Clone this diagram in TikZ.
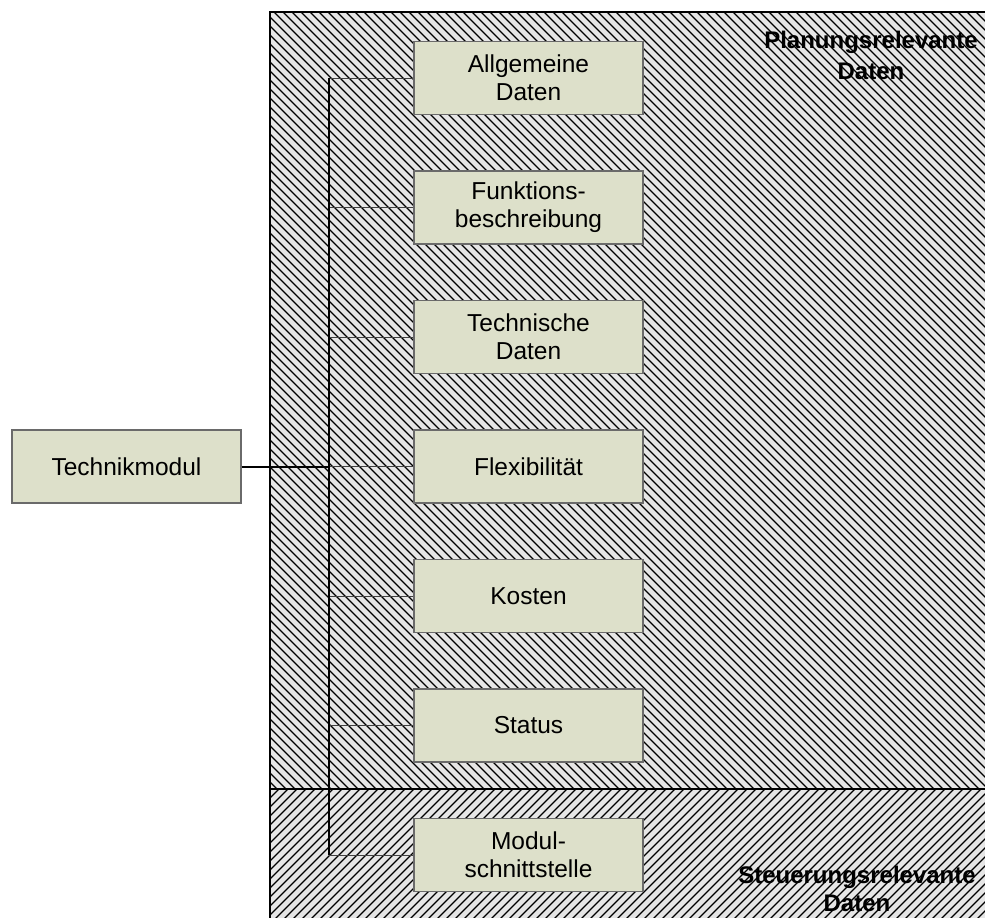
\documentclass[tikz,border=0pt]{standalone}
\usepackage{fontspec}
\setmainfont{Liberation Sans}
\usetikzlibrary{positioning}
\definecolor{boxfill}{HTML}{DDE0CA}
\definecolor{boxline}{HTML}{6A6A6A}
\definecolor{hatchbg}{HTML}{E6E6E6}

\begin{document}
\begin{tikzpicture}[x=1pt,y=-1pt,font=\fontsize{24.5}{28}\selectfont,
  box/.style={draw=boxline,fill=boxfill,line width=1.2pt,minimum width=229pt,minimum height=73pt,inner sep=0pt,align=center},
  hatch/.style={line width=1.2pt},
  branch/.style={draw=black!75,line width=.9pt}]
\clip (0,0) rectangle (985,918);
% hatched areas: planning data on top, control data below
\fill[hatchbg] (270,12) rectangle (995,930);
\begin{scope}\clip (270,12) rectangle (995,789);
\foreach \i in {-530,-521,...,995}{\draw[hatch] (\i,0)--(\i+800,800);}
\end{scope}
\begin{scope}\clip (270,789) rectangle (995,930);
\foreach \i in {120,129,...,995}{\draw[hatch] (\i,930)--(\i+150,780);}
\end{scope}
\draw[line width=1.4pt] (995,12)-|(270,930);\draw[line width=1.4pt] (270,789)--(995,789);
\node[font=\fontsize{24}{31}\selectfont\bfseries,align=center] (plan) at (871,55){Planungsrelevante\\Daten};
\node[font=\fontsize{24}{28}\selectfont\bfseries,align=center] (steu) at (857,889){Steuerungsrelevante\\Daten};
% modules
\node[box] (tm) at (126.5,466.5){Technikmodul};
\coordinate (bus) at (329,466.5);
\foreach \n/\t [count=\k from 0] in {ad/{Allgemeine\\Daten},fb/{Funktions-\\beschreibung},td/{Technische\\Daten},fx/{Flexibilität},ko/{Kosten},st/{Status},ms/{Modul-\\schnittstelle}}{
  \node[box] (\n) at (528.5,{78+129.5*\k}){\t};
  \draw[branch] (\n.west)--(\n.west-|bus);}
\draw[line width=1.3pt] (ad.west-|bus)--(ms.west-|bus);
\draw[line width=2pt] (tm.east)--(bus);
\end{tikzpicture}
\end{document}
